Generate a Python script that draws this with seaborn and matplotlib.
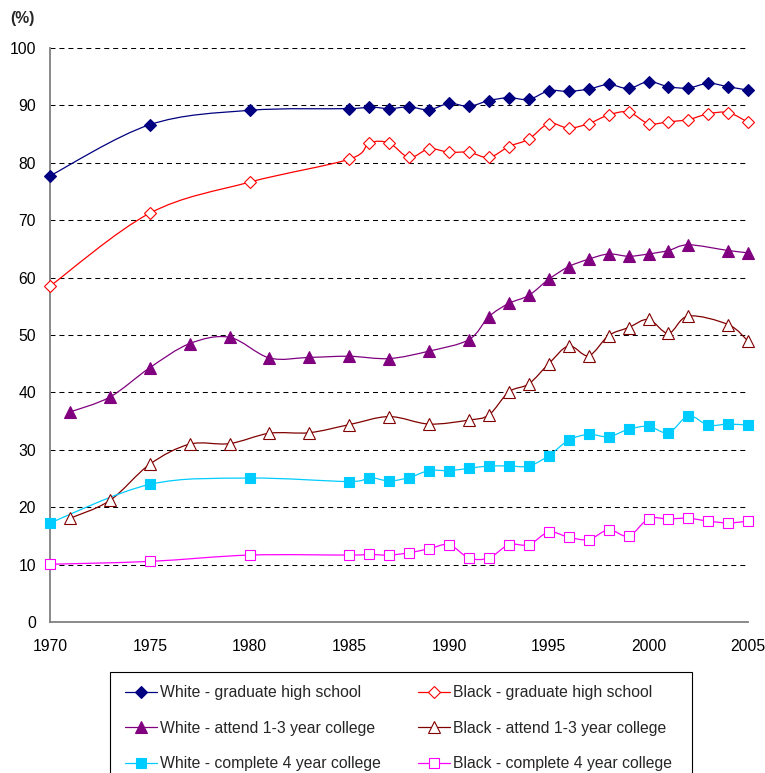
import numpy as np
import pandas as pd
import matplotlib
matplotlib.use("Agg")
import matplotlib.pyplot as plt
from matplotlib.path import Path
from matplotlib.patches import PathPatch, Rectangle
from matplotlib.lines import Line2D
import seaborn as sns

# ---- data -------------------------------------------------------------
years_hs = [1970, 1975, 1980, 1985, 1986, 1987, 1988, 1989, 1990, 1991, 1992,
            1993, 1994, 1995, 1996, 1997, 1998, 1999, 2000, 2001, 2002, 2003,
            2004, 2005]
white_hs = [77.7, 86.6, 89.1, 89.4, 89.7, 89.4, 89.7, 89.2, 90.3, 89.8, 90.8,
            91.3, 91.0, 92.5, 92.4, 92.8, 93.6, 92.9, 94.1, 93.2, 93.0, 93.8,
            93.2, 92.6]
black_hs = [58.5, 71.2, 76.6, 80.6, 83.4, 83.4, 80.9, 82.4, 81.8, 81.8, 80.9,
            82.8, 84.1, 86.8, 86.0, 86.8, 88.3, 88.8, 86.8, 87.1, 87.5, 88.5,
            88.7, 87.0]

years_attend = [1971, 1973, 1975, 1977, 1979, 1981, 1983, 1985, 1987, 1989,
                1991, 1992, 1993, 1994, 1995, 1996, 1997, 1998, 1999, 2000,
                2001, 2002, 2004, 2005]
white_attend = [36.6, 39.2, 44.3, 48.5, 49.6, 46.0, 46.1, 46.3, 45.9, 47.2,
                49.2, 53.2, 55.5, 56.9, 59.7, 61.9, 63.2, 64.1, 63.7, 64.1,
                64.7, 65.7, 64.7, 64.3]
black_attend = [18.1, 21.2, 27.5, 31.0, 31.1, 32.9, 33.0, 34.4, 35.8, 34.5,
                35.2, 36.1, 40.1, 41.5, 45.0, 48.1, 46.4, 49.9, 51.3, 52.7,
                50.3, 53.3, 51.8, 48.9]

years_complete = years_hs
white_complete = [17.3, 24.0, 25.1, 24.5, 25.2, 24.6, 25.2, 26.4, 26.4, 26.8,
                  27.2, 27.2, 27.2, 29.0, 31.7, 32.7, 32.3, 33.6, 34.1, 33.0,
                  35.9, 34.3, 34.5, 34.3]
black_complete = [10.1, 10.6, 11.7, 11.7, 11.8, 11.7, 12.1, 12.8, 13.5, 11.2,
                  11.2, 13.5, 13.5, 15.7, 14.8, 14.4, 16.1, 15.0, 18.0, 18.0,
                  18.1, 17.6, 17.3, 17.6]

labels = ["White - graduate high school", "Black - graduate high school",
          "White - attend 1-3 year college", "Black - attend 1-3 year college",
          "White - complete 4 year college", "Black - complete 4 year college"]

x_ticks = [1970, 1975, 1980, 1985, 1990, 1995, 2000, 2005]
y_ticks = list(range(0, 101, 10))

# ---- style ------------------------------------------------------------
FS = 11.3
sns.set_style("white")
plt.rcParams["font.family"] = ["Liberation Sans", "DejaVu Sans"]
plt.rcParams["font.size"] = FS

series = [
    # label, years, values, color, marker, size, filled
    (labels[0], years_hs, white_hs, "#000080", "D", 6.4, True),
    (labels[1], years_hs, black_hs, "#FF0000", "D", 6.4, False),
    (labels[2], years_attend, white_attend, "#800080", "^", 8.0, True),
    (labels[3], years_attend, black_attend, "#800000", "^", 8.0, False),
    (labels[4], years_complete, white_complete, "#00CCFF", "s", 7.0, True),
    (labels[5], years_complete, black_complete, "#FF00FF", "s", 7.0, False),
]


def smooth_path(xs, ys):
    """Cubic Bezier path through the points (Catmull-Rom style smoothing)."""
    pts = np.column_stack([xs, ys]).astype(float)
    n = len(pts)
    verts = [pts[0]]
    codes = [Path.MOVETO]
    for i in range(n - 1):
        p0 = pts[i - 1] if i > 0 else pts[i]
        p1 = pts[i]
        p2 = pts[i + 1]
        p3 = pts[i + 2] if i + 2 < n else pts[i + 1]
        c1 = p1 + (p2 - p0) / 6.0
        c2 = p2 - (p3 - p1) / 6.0
        verts += [c1, c2, p2]
        codes += [Path.CURVE4] * 3
    return Path(verts, codes)


W, H = 765, 773
fig = plt.figure(figsize=(W / 100, H / 100), dpi=100)
ax = fig.add_axes([50 / W, 1 - 622.3 / H, (748.3 - 50) / W, (622.3 - 47.7) / H])

handles = {}
for label, xs, ys, color, marker, ms, filled in series:
    ax.add_patch(PathPatch(smooth_path(xs, ys), facecolor="none",
                           edgecolor=color, lw=0.9, zorder=3, clip_on=False))
    df = pd.DataFrame({"year": xs, "value": ys})
    face = color if filled else "white"
    sns.lineplot(data=df, x="year", y="value", ax=ax, estimator=None,
                 sort=False, linestyle="", marker=marker, markersize=ms,
                 markerfacecolor=face, markeredgecolor=color,
                 markeredgewidth=0.8, legend=False, zorder=4, clip_on=False)
    handles[label] = Line2D([], [], color=color, lw=0.9, marker=marker,
                            markersize=ms, markerfacecolor=face,
                            markeredgecolor=color, markeredgewidth=0.8)

# axes and grid
ax.set_xlim(1970, 2005)
ax.set_ylim(0, 100)
ax.set_xticks(x_ticks)
ax.set_yticks(y_ticks)
ax.set_xlabel("")
ax.set_ylabel("")
for yv in y_ticks[1:]:
    ax.axhline(yv, color="black", lw=0.75, linestyle=(0, (4.8, 3.8)), zorder=1)
for side in ["top", "right"]:
    ax.spines[side].set_visible(False)
for side in ["left", "bottom"]:
    ax.spines[side].set_color("#808080")
    ax.spines[side].set_linewidth(1.3)
ax.tick_params(axis="both", which="major", direction="out", length=4,
               width=1.0, color="#808080", labelsize=FS, labelcolor="black")
ax.tick_params(axis="y", pad=6)
ax.tick_params(axis="x", pad=8)
ax.set_facecolor("white")

fig.text(10 / W, 1 - 19 / H, "(%)", fontsize=FS, fontweight="bold",
         ha="left", va="center")

# legend: entries laid out by matplotlib, box drawn as a separate frame
order = [labels[0], labels[2], labels[4], labels[1], labels[3], labels[5]]
leg = fig.legend([handles[l] for l in order], order, ncol=2, loc="upper left",
                 bbox_to_anchor=(112 / W, 1 - 672 / H), frameon=False,
                 borderaxespad=0, fontsize=FS, handlelength=2.0,
                 handletextpad=0.2, columnspacing=2.4, labelspacing=1.3,
                 borderpad=0.85)
fig.add_artist(Rectangle((110 / W, 1 - 800 / H), (692 - 110) / W, 128 / H,
                         transform=fig.transFigure, facecolor="none",
                         edgecolor="black", lw=0.8, zorder=0))

fig.savefig("out.png", dpi=100, facecolor="white")
